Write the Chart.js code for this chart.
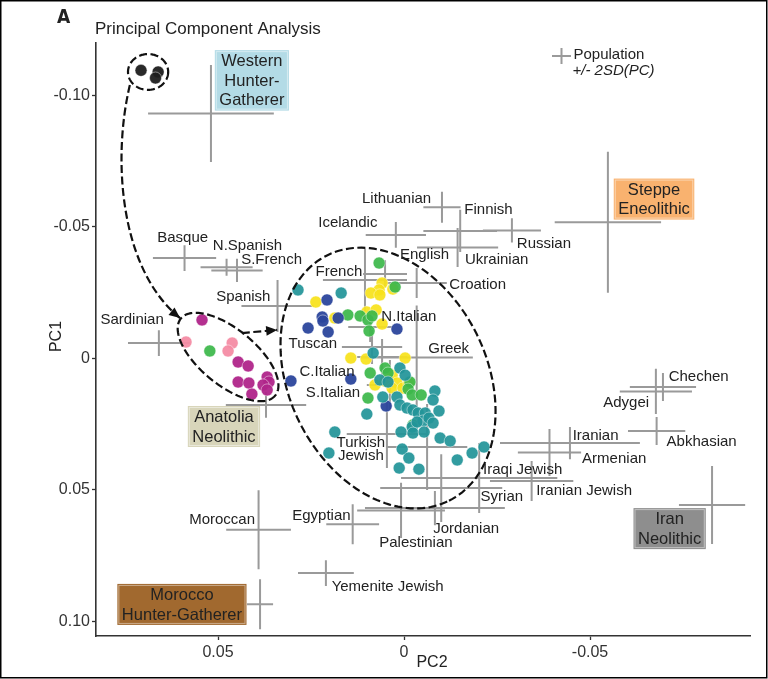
<!DOCTYPE html>
<html>
<head>
<meta charset="utf-8">
<script src="https://cdn.jsdelivr.net/npm/chart.js@4.4.1/dist/chart.umd.min.js"></script>
<style>
  html, body { margin: 0; padding: 0; background: #fff; }
  #wrap { width: 768px; height: 679px; }
</style>
</head>
<body>
<div id="wrap"><canvas id="pca" width="768" height="679"></canvas></div>
<script>
// =====================================================================
// DATA  (PC2 on x, PC1 on y, both axes reversed as in the figure)
// =====================================================================
const xTickValues = [0.05, 0, -0.05];
const xTickText = ['0.05', '0', '-0.05'];
const yTickValues = [-0.10, -0.05, 0, 0.05, 0.10];
const yTickText = ['-0.10', '-0.05', '0', '0.05', '0.10'];

// populations: centre and 2SD half-widths of each cross
const popNames = ['Western Hunter-Gatherer', 'Basque', 'N.Spanish', 'S.French', 'Spanish', 'Sardinian', 'Icelandic',
  'Lithuanian', 'Finnish', 'Ukrainian', 'Russian', 'Steppe Eneolithic', 'English', 'French', 'Croation', 'N.Italian',
  'Tuscan', 'Greek', 'C.Italian', 'S.Italian', 'Turkish Jewish', '', 'Jordanian', 'Palestinian', 'Syrian',
  'Iraqi Jewish', 'Egyptian', 'Moroccan', 'Morocco Hunter-Gatherer', 'Yemenite Jewish', 'Anatolia Neolithic',
  'Chechen', 'Adygei', 'Abkhasian', 'Iranian', 'Armenian', 'Iranian Jewish', 'Iran Neolithic'];
const popX = [0.0519, 0.0590, 0.0477, 0.0449, 0.0340, 0.0659, 0.0022, -0.0102, -0.0151, -0.0144, -0.0290, -0.0548,
  0.0051, 0.0105, -0.0034, 0.0091, 0.0086, -0.0034, 0.0059, 0.0038, 0.0046, -0.0062, -0.0100, 0.0008, -0.0083,
  -0.0202, 0.0138, 0.0391, 0.0387, 0.0210, 0.0371, -0.0696, -0.0677, -0.0679, -0.0446, -0.0391, -0.0343, -0.0828];
const popY = [-0.0930, -0.0381, -0.0346, -0.0334, -0.0199, -0.0058, -0.0469, -0.0574, -0.0484, -0.0421, -0.0486,
  -0.0517, -0.0320, -0.0298, -0.0286, -0.0119, -0.0043, -0.0003, -0.0005, 0.0101, 0.0288, 0.0337, 0.0493, 0.0578,
  0.0569, 0.0455, 0.0630, 0.0651, 0.0934, 0.0816, 0.0177, 0.0109, 0.0126, 0.0276, 0.0322, 0.0358, 0.0466, 0.0557];
const popSdX = [0.0169, 0.0085, 0.0070, 0.0069, 0.0097, 0.0083, 0.0081, 0.0050, 0.0099, 0.0109, 0.0078, 0.0143,
  0.0059, 0.0113, 0.0081, 0.0059, 0.0081, 0.0151, 0.0067, 0.0062, 0.0108, 0.0108, 0.0164, 0.0118, 0.0188, 0.0210,
  0.0071, 0.0087, 0.0035, 0.0075, 0.0108, 0.0089, 0.0097, 0.0077, 0.0188, 0.0085, 0.0112, 0.0089];
const popSdY = [0.0184, 0.0049, 0.0032, 0.0044, 0.0099, 0.0049, 0.0049, 0.0059, 0.0080, 0.0074, 0.0046, 0.0268,
  0.0053, 0.0118, 0.0057, 0.0057, 0.0065, 0.0198, 0.0068, 0.0095, 0.0129, 0.0163, 0.0129, 0.0105, 0.0065, 0.0133,
  0.0076, 0.0150, 0.0095, 0.0049, 0.0049, 0.0053, 0.0086, 0.0053, 0.0061, 0.0089, 0.0076, 0.0148];

// plain text labels (anchor = text centre)
const labelText = ['Basque', 'N.Spanish', 'S.French', 'Spanish', 'Sardinian', 'Icelandic', 'Lithuanian', 'Finnish',
  'English', 'Ukrainian', 'Russian', 'French', 'Croation', 'N.Italian', 'Tuscan', 'Greek', 'C.Italian', 'S.Italian',
  'Turkish\nJewish', 'Moroccan', 'Egyptian', 'Yemenite Jewish', 'Palestinian', 'Jordanian', 'Syrian', 'Iraqi Jewish',
  'Iranian Jewish', 'Armenian', 'Iranian', 'Adygei', 'Chechen', 'Abkhasian'];
const labelX = [0.0595, 0.0421, 0.0356, 0.0432, 0.0731, 0.0151, 0.0020, -0.0227, -0.0055, -0.0249, -0.0376, 0.0175,
  -0.0198, -0.0013, 0.0245, -0.0120, 0.0207, 0.0191, 0.0116, 0.0489, 0.0222, 0.0044, -0.0032, -0.0167, -0.0263,
  -0.0319, -0.0484, -0.0565, -0.0515, -0.0597, -0.0792, -0.0800];
const labelY = [-0.0457, -0.0427, -0.0374, -0.0233, -0.0146, -0.0514, -0.0605, -0.0564, -0.0393, -0.0374, -0.0434,
  -0.0328, -0.0279, -0.0157, -0.0054, -0.0035, 0.0052, 0.0132, 0.0345, 0.0614, 0.0599, 0.0869, 0.0702, 0.0649,
  0.0527, 0.0424, 0.0504, 0.0383, 0.0295, 0.0170, 0.0071, 0.0318];

// ancient groups shown in coloured boxes
const boxText = ['Western\nHunter-\nGatherer', 'Steppe\nEneolithic', 'Anatolia\nNeolithic', 'Iran\nNeolithic', 'Morocco\nHunter-Gatherer'];
const boxX = [0.0409, -0.0672, 0.0484, -0.0714, 0.0597];
const boxY = [-0.1056, -0.0605, 0.0259, 0.0647, 0.0935];

// individual samples
const whgX = [0.0707, 0.0661, 0.0668];
const whgY = [-0.1094, -0.1088, -0.1065];
const magentaX = [0.0543, 0.0446, 0.0419, 0.0446, 0.0417, 0.0409, 0.0368, 0.0363, 0.0379, 0.0368];
const magentaY = [-0.0146, 0.0014, 0.0029, 0.0090, 0.0094, 0.0136, 0.0071, 0.0090, 0.0101, 0.0120];
const pinkX = [0.0586, 0.0462, 0.0473];
const pinkY = [-0.0062, -0.0058, -0.0028];
const greenX = [0.0522, 0.0067, 0.0024, 0.0151, 0.0118, 0.0097, 0.0086, 0.0094, 0.0091, 0.0051, 0.0097, -0.0016,
  -0.0011, -0.0022, -0.0046, -0.0024, 0.0043];
const greenY = [-0.0028, -0.0362, -0.0271, -0.0165, -0.0161, -0.0146, -0.0161, -0.0104, 0.0056, 0.0037, 0.0151,
  0.0090, 0.0117, 0.0139, 0.0139, 0.0253, 0.0056];
const blueX = [0.0304, 0.0207, 0.0220, 0.0218, 0.0177, 0.0258, 0.0204, 0.0019, 0.0143, 0.0048];
const blueY = [0.0086, -0.0222, -0.0157, -0.0142, -0.0153, -0.0115, -0.0100, -0.0111, 0.0079, 0.0181];
const yellowX = [0.0059, 0.0067, 0.0089, 0.0065, 0.0030, 0.0237, 0.0186, 0.0100, 0.0075, 0.0059, 0.0143, 0.0102,
  -0.0003, 0.0078, 0.0051, 0.0032, 0.0019, 0.0032, 0.0003, -0.0013];
const yellowY = [-0.0286, -0.0260, -0.0248, -0.0241, -0.0263, -0.0214, -0.0153, -0.0176, -0.0184, -0.0130, -0.0001,
  0.0003, -0.0001, 0.0101, 0.0086, 0.0064, 0.0094, 0.0113, 0.0113, 0.0094];
const tealX = [0.0285, 0.0169, 0.0083, 0.0011, -0.0003, 0.0065, 0.0043, 0.0057, 0.0019, 0.0011, -0.0008, -0.0024,
  -0.0038, -0.0057, -0.0051, -0.0067, -0.0078, -0.0083, -0.0078, -0.0094, -0.0022, -0.0035, 0.0100, 0.0186, 0.0008,
  -0.0024, -0.0054, -0.0097, -0.0124, 0.0202, 0.0005, -0.0013, 0.0013, -0.0040, -0.0143, -0.0183, -0.0215];
const tealY = [-0.0260, -0.0248, -0.0020, 0.0037, 0.0064, 0.0082, 0.0090, 0.0147, 0.0147, 0.0177, 0.0189, 0.0196,
  0.0208, 0.0208, 0.0238, 0.0227, 0.0246, 0.0124, 0.0158, 0.0200, 0.0261, 0.0242, 0.0212, 0.0280, 0.0280, 0.0284,
  0.0280, 0.0303, 0.0314, 0.0360, 0.0345, 0.0379, 0.0417, 0.0421, 0.0386, 0.0360, 0.0337];

// dashed outlines: centre plus two conjugate semi-axes (data units)
const whgRing = { c: [0.0688, -0.1088], u: [-0.0054, 0], v: [0, 0.0068] };
const anatoliaRing = { c: [0.0473, -0.0005], u: [-0.0127, 0.0146], v: [0.0047, 0.0083] };
const modernRing = { c: [0.0043, 0.0075], u: [-0.0164, 0.0466], v: [-0.0238, -0.0168] };
// dashed arrows (bezier control points / straight ends)
const curveArrow = [[0.0737, -0.1038], [0.0785, -0.0753], [0.0763, -0.0336], [0.0602, -0.0153]];
const straightArrow = [[0.0436, -0.0096], [0.0341, -0.0108]];

// =====================================================================
// STYLE
// =====================================================================
const FONT = '"Liberation Sans", Arial, Helvetica, sans-serif';
const INK = '#222';
const CROSS_GREY = '#9a9a9a';
const boxFill = ['#b3dbe6', '#f9b26f', '#d8d5ba', '#8e8e8e', '#a1692f'];

const pts = (xs, ys) => xs.map((v, i) => ({ x: v, y: ys[i] }));
function dotSet(label, xs, ys, color) {
    return {
        label, data: pts(xs, ys), order: 0,
        backgroundColor: color, borderColor: 'rgba(255,255,255,0.55)', borderWidth: 0.8,
        pointRadius: 6, pointHoverRadius: 6
    };
}

// every cross is two short segments, separated by null points
const crossData = [];
popX.forEach((cx, i) => {
    const cy = popY[i];
    crossData.push({ x: cx - popSdX[i], y: cy }, { x: cx + popSdX[i], y: cy }, { x: cx, y: null });
    crossData.push({ x: cx, y: cy - popSdY[i] }, { x: cx, y: cy + popSdY[i] }, { x: cx, y: null });
});

// =====================================================================
// OVERLAY: rings, arrows, labels, boxes, titles
// =====================================================================
function drawLines(ctx, text, cx, cy, lineH) {
    const lines = text.split('\n');
    lines.forEach((ln, k) => ctx.fillText(ln, cx, cy + (k - (lines.length - 1) / 2) * lineH));
}

function arrowHead(ctx, from, tip) {
    const a = Math.atan2(tip[1] - from[1], tip[0] - from[0]);
    const len = 11, half = 4.8;
    ctx.beginPath();
    ctx.moveTo(tip[0], tip[1]);
    ctx.lineTo(tip[0] - len * Math.cos(a) + half * Math.sin(a), tip[1] - len * Math.sin(a) - half * Math.cos(a));
    ctx.lineTo(tip[0] - len * Math.cos(a) - half * Math.sin(a), tip[1] - len * Math.sin(a) + half * Math.cos(a));
    ctx.closePath();
    ctx.fill();
}

const overlay = {
    id: 'overlay',
    afterDatasetsDraw(chart) {
        const { ctx, scales: { x, y } } = chart;
        const P = d => [x.getPixelForValue(d[0]), y.getPixelForValue(d[1])];
        ctx.save();

        // dashed rings
        ctx.strokeStyle = '#111';
        ctx.fillStyle = '#111';
        ctx.lineWidth = 2.2;
        ctx.setLineDash([8, 3.5]);
        [whgRing, anatoliaRing, modernRing].forEach(r => {
            ctx.beginPath();
            for (let k = 0; k <= 160; k++) {
                const t = k / 160 * Math.PI * 2;
                const p = P([r.c[0] + Math.cos(t) * r.u[0] + Math.sin(t) * r.v[0],
                             r.c[1] + Math.cos(t) * r.u[1] + Math.sin(t) * r.v[1]]);
                if (k === 0) ctx.moveTo(p[0], p[1]); else ctx.lineTo(p[0], p[1]);
            }
            ctx.closePath();
            ctx.stroke();
        });

        // curved arrow WHG -> Anatolia
        const c = curveArrow.map(P);
        ctx.beginPath();
        ctx.moveTo(c[0][0], c[0][1]);
        ctx.bezierCurveTo(c[1][0], c[1][1], c[2][0], c[2][1], c[3][0], c[3][1]);
        ctx.stroke();
        // straight arrow Anatolia -> modern
        const s = straightArrow.map(P);
        ctx.beginPath();
        ctx.moveTo(s[0][0], s[0][1]);
        ctx.lineTo(s[1][0], s[1][1]);
        ctx.stroke();
        ctx.setLineDash([]);
        arrowHead(ctx, c[2], c[3]);
        arrowHead(ctx, s[0], s[1]);

        // population labels
        ctx.fillStyle = INK;
        ctx.textAlign = 'center';
        ctx.textBaseline = 'middle';
        ctx.font = '15px ' + FONT;
        labelText.forEach((t, i) => {
            const p = P([labelX[i], labelY[i]]);
            drawLines(ctx, t, p[0], p[1], 13);
        });

        // boxed ancient groups
        ctx.font = '16.5px ' + FONT;
        const lineH = 19.5;
        boxText.forEach((t, i) => {
            const p = P([boxX[i], boxY[i]]);
            const lines = t.split('\n');
            const w = Math.max(...lines.map(l => ctx.measureText(l).width)) + 9;
            const h = lines.length * lineH + 2;
            ctx.fillStyle = boxFill[i];
            ctx.fillRect(p[0] - w / 2, p[1] - h / 2, w, h);
            ctx.strokeStyle = 'rgba(255,255,255,0.45)';
            ctx.lineWidth = 1;
            ctx.strokeRect(p[0] - w / 2 + 1.5, p[1] - h / 2 + 1.5, w - 3, h - 3);
            ctx.fillStyle = INK;
            drawLines(ctx, t, p[0], p[1] + 1, lineH);
        });
        ctx.restore();
    },
    afterDraw(chart) {
        const { ctx, chartArea: a } = chart;
        ctx.save();
        ctx.fillStyle = INK;
        ctx.textBaseline = 'middle';

        // panel letter and title
        ctx.textAlign = 'left';
        ctx.font = 'bold 19px "Liberation Sans Narrow", "DejaVu Sans Condensed", ' + FONT;
        ctx.fillText('A', a.left - 39, 18);
        ctx.font = '17px ' + FONT;
        ctx.fillText('Principal Component Analysis', a.left - 1, 29);

        // legend for the crosses
        const lx = a.left + 465.5, ly = 56;
        ctx.strokeStyle = CROSS_GREY;
        ctx.lineWidth = 2;
        ctx.beginPath();
        ctx.moveTo(lx - 9.5, ly); ctx.lineTo(lx + 9.5, ly);
        ctx.moveTo(lx, ly - 8); ctx.lineTo(lx, ly + 8);
        ctx.stroke();
        ctx.font = '15px ' + FONT;
        ctx.fillText('Population', lx + 12, ly - 1);
        ctx.font = 'italic 15px ' + FONT;
        ctx.fillText('+/- 2SD(PC)', lx + 11, ly + 15);

        // axis titles
        ctx.font = '16px ' + FONT;
        ctx.textAlign = 'center';
        ctx.fillText('PC2', 432, 663);
        ctx.translate(57, (a.top + a.bottom) / 2 - 3);
        ctx.rotate(-Math.PI / 2);
        ctx.fillText('PC1', 0, 0);
        ctx.restore();

        // thin frame round the figure
        ctx.save();
        ctx.strokeStyle = '#000';
        ctx.lineWidth = 1.5;
        ctx.strokeRect(0.75, 0.75, chart.width - 2, chart.height - 2);
        ctx.restore();
    }
};

// =====================================================================
// CHART
// =====================================================================
const axisColor = '#333';
new Chart(document.getElementById('pca').getContext('2d'), {
    type: 'scatter',
    data: {
        datasets: [
            dotSet('WHG', whgX, whgY, 'rgba(30,30,30,0.95)'),
            dotSet('Anatolia', magentaX, magentaY, 'rgba(176,37,138,0.95)'),
            dotSet('Anatolia light', pinkX, pinkY, 'rgba(244,140,164,0.95)'),
            dotSet('teal', tealX, tealY, 'rgba(34,148,153,0.93)'),
            dotSet('blue', blueX, blueY, 'rgba(43,70,156,0.95)'),
            dotSet('green', greenX, greenY, 'rgba(60,184,74,0.93)'),
            dotSet('yellow', yellowX, yellowY, 'rgba(247,226,28,0.93)'),
            {
                label: 'population +/- 2SD', data: crossData, order: 1,
                showLine: true, spanGaps: false, pointRadius: 0, pointHoverRadius: 0,
                borderColor: CROSS_GREY, borderWidth: 2, borderCapStyle: 'butt'
            }
        ]
    },
    options: {
        responsive: false,
        animation: false,
        events: [],
        layout: { padding: { left: 0, top: 43, right: 18, bottom: 0 } },
        plugins: { legend: { display: false }, tooltip: { enabled: false } },
        scales: {
            x: {
                type: 'linear', reverse: true, min: -0.093, max: 0.0828,
                afterFit: s => { s.height = 43; },
                afterBuildTicks: s => { s.ticks = xTickValues.map(v => ({ value: v })); },
                ticks: {
                    callback: (v, i) => xTickText[i], color: axisColor, padding: 3,
                    font: { family: FONT, size: 16 }, maxRotation: 0
                },
                grid: { drawOnChartArea: false, tickLength: 4, tickColor: axisColor, tickWidth: 1.3 },
                border: { display: true, color: axisColor, width: 1.6 }
            },
            y: {
                type: 'linear', reverse: true, min: -0.1198, max: 0.1055,
                afterFit: s => { s.width = 96; },
                afterBuildTicks: s => { s.ticks = yTickValues.map(v => ({ value: v })); },
                ticks: {
                    callback: (v, i) => yTickText[i], color: axisColor, padding: 2,
                    font: { family: FONT, size: 16 }
                },
                grid: { drawOnChartArea: false, tickLength: 4, tickColor: axisColor, tickWidth: 1.3 },
                border: { display: true, color: axisColor, width: 1.6 }
            }
        }
    },
    plugins: [overlay]
});
</script>
</body>
</html>
